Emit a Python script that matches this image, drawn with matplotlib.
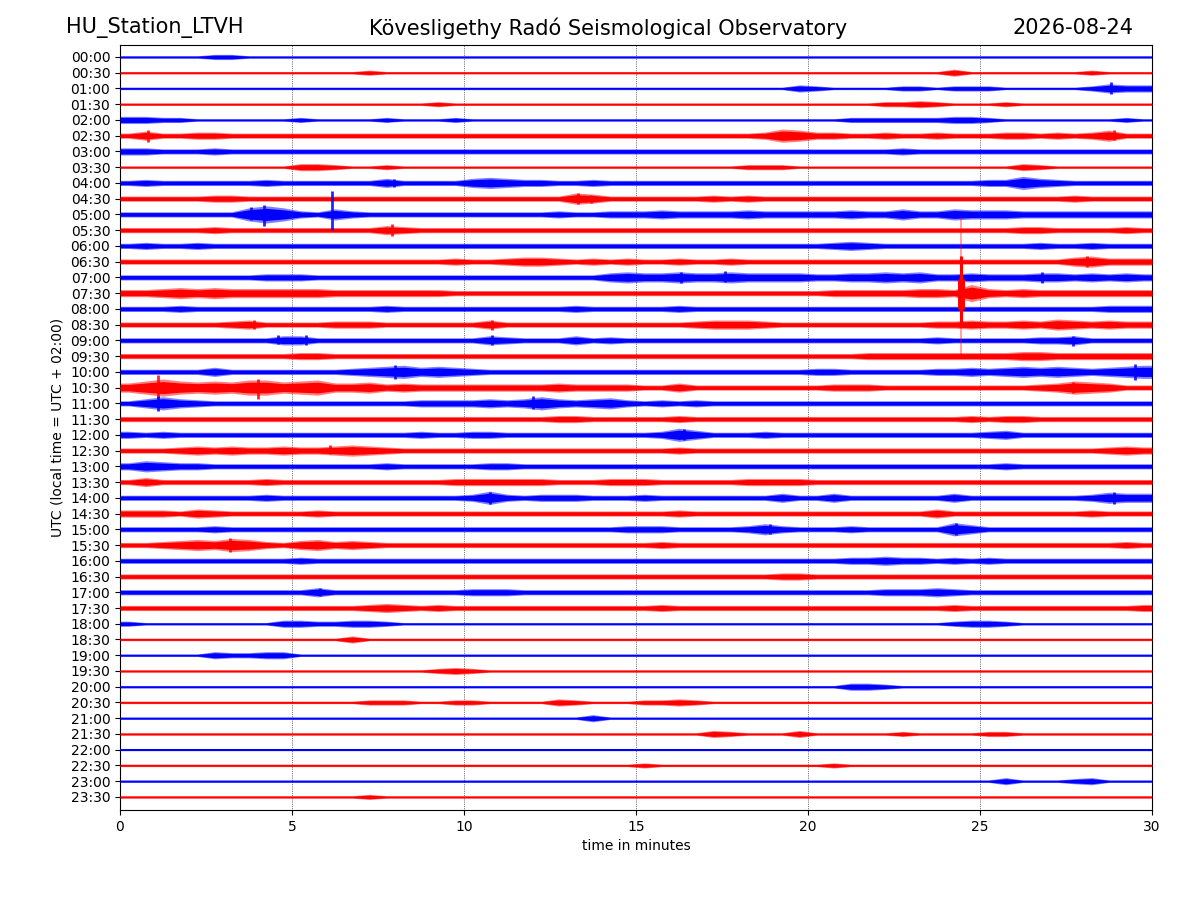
import numpy as np
import matplotlib
matplotlib.use("Agg")
import matplotlib.pyplot as plt

station = "HU_Station_LTVH"
observatory = "Kövesligethy Radó Seismological Observatory"
day = "2026-08-24"

row_labels = [f"{h:02d}:{m:02d}" for h in range(24) for m in (0, 30)]
row_colors = ["#0000ff", "#ff0000"] * 24

# trace envelope, one digit per half minute (base36: a=10 ...), groups of 5 minutes
envelope = [
    "1111122111 1111111111 1111111111 1111111111 1111111111 1111111111",  # 00:00
    "1111111111 1111211111 1111111111 1111111111 1111111131 1111112111",
    "1111111111 1111111111 1111111111 1111111113 2111122122 2111112433",
    "1111111111 1111111121 1111111111 1111111111 1111223211 1211111111",
    "3322111111 2111121112 1111111111 1111111111 1122222233 2111111121",
    "2422332222 2222222222 2222222222 2222222365 3322322322 2332323522",
    "3322232222 2222222222 2222222222 2222222222 2222232222 2222222222",
    "1111111111 3321121111 1111111111 1111112221 1111111111 1132111111",
    "2322222232 2222242222 4543322322 2222222222 2222222222 3364322222",  # 04:00
    "2222233222 2222222222 2222225422 2222323222 2222222222 2222232222",
    "2222222686 3253222222 2222232233 3433334333 3343353354 4433333333",
    "2222232222 2222243222 2222222222 2222222222 2222222222 2233222232",
    "2322322222 2222222222 2222222222 2222222222 2343222222 2223223222",
    "2222222222 2222222223 2234432323 2232232222 2222222222 2222245333",
    "2222222233 3222222222 2222222245 4454454444 3344545334 3334434343",
    "3345454444 4433333332 2222222222 2222222222 2333334438 4343333333",
    "2223222222 2222232222 2222223222 2232222222 2222222222 2222222333",  # 08:00
    "2222223422 2233322222 2422222222 2223444322 2222222334 3343543433",
    "2222222224 4222222222 2432224232 2222222222 2222222322 2223342222",
    "2222222222 3322222222 2222222222 2222222222 2223333333 3344333333",
    "2222242222 2223456454 3222222222 2222222222 3322222334 3454543456",
    "4686565775 6744534333 3333343333 2242222222 2333222222 2223465422",
    "2464322222 2222222333 3434643453 2323222222 2222222222 2222222222",
    "2222222222 2222222222 2222233222 2232222222 2222222223 2332222222",
    "3232222222 2222222322 3322222222 2364222322 2222222222 3422222222",  # 12:00
    "2223434334 3345432222 2222222222 2232222222 2222222222 2222222343",
    "3543322222 2222232222 2332222222 2222222222 2222222222 2322222222",
    "2422222232 2222222223 3333322233 3222223333 2222222222 2222222222",
    "2222222232 2222222222 3632333222 3222222242 2422222242 2222223544",
    "3332432222 2322222222 2222222222 2232222222 2222222422 2222223222",
    "2222232222 2222222222 2222222223 3322223532 2232222264 2222222222",
    "2234546532 4534322222 2222222222 2322222222 2222222222 2222222232",
    "2222222222 3222222222 2222222222 2222222222 2233433232 3222222222",  # 16:00
    "2222222222 2222222222 2222222222 2222222233 2222222222 2222222222",
    "2222222222 2422222222 3332222222 2222222222 2222333432 2222222222",
    "2222222222 2222343232 2222222222 2322222222 2222222232 2222222223",
    "2111111113 3223321111 1111111111 1111111111 1111111123 3211111111",
    "1111111111 1113111111 1111111111 1111111111 1111111111 1111111111",
    "1111132233 1111111111 1111111111 1111111111 1111111111 1111111111",
    "1111111111 1111111123 2111111111 1111111111 1111111111 1111111111",
    "1111111111 1111111111 1111111111 1111111111 1133211111 1111111111",  # 20:00
    "1111111111 1111222112 2111132111 2232111111 1111111111 1111111111",
    "1111111111 1111111111 1111111311 1111111111 1111111111 1111111111",
    "1111111111 1111111111 1111111111 1111321113 1111121111 2211111111",
    "1111111111 1111111111 1111111111 1111111111 1111111111 1111111111",
    "1111111111 1111111111 1111111111 2111111111 1211111111 1111111111",
    "1111111111 1111111111 1111111111 1111111111 1111111111 1311123111",
    "1111111111 1111211111 1111111111 1111111111 1111111111 1111111111",
]

# short spikes: row, minute, pixels up, pixels down
spike_row = [2, 5, 5, 8, 9, 9, 10, 10, 10, 11, 13, 14, 14, 14, 17, 17, 18, 18,
             18, 18, 20, 20, 21, 21, 21, 22, 22, 24, 25, 28, 28, 30, 30, 31, 34]
spike_min = [28.8, 0.8, 28.9, 7.97, 13.3, 13.7, 3.8, 4.2, 6.15, 7.9, 28.1, 16.3,
             17.6, 26.8, 3.9, 10.8, 4.6, 5.4, 10.8, 27.7, 8.0, 29.5, 1.1, 4.0,
             27.7, 1.1, 12.0, 16.4, 6.1, 10.75, 28.9, 18.9, 24.3, 3.2, 5.8]
spike_up = [6, 6, 6, 4, 6, 4, 7, 9, 23, 6, 6, 5, 6, 5, 5, 5, 5, 5, 5, 4, 7, 8,
            13, 9, 6, 7, 7, 6, 6, 6, 6, 5, 6, 7, 4]
spike_down = [6, 6, 4, 4, 5, 4, 6, 12, 16, 6, 5, 6, 5, 6, 4, 5, 4, 5, 5, 6, 7,
              8, 10, 11, 5, 8, 6, 5, 3, 6, 6, 5, 6, 7, 4]

# the big quake at 07:30 that runs over neighbouring lines
quake_row = 15
quake_min = 24.45
quake_up = [75, 37, 14]
quake_down = [63, 30, 16]
quake_alpha = [0.35, 1.0, 1.0]
quake_lw = [1.5, 2.2, 5.0]

PX_ROW = 15.74  # pixel distance between two lines

fig = plt.figure(figsize=(12, 9), dpi=100)
ax = fig.add_axes([0.1, 0.1, 0.86, 0.85])

t = np.arange(60) * 0.5 + 0.25
tt = np.concatenate([[0], t, [30]])
for i, (s, c) in enumerate(zip(envelope, row_colors)):
    lev = np.array([int(ch, 36) for ch in s.replace(" ", "")], dtype=float)
    half_px = np.where(lev <= 1, 1.2 * lev, 0.6 + lev)
    amp = half_px / PX_ROW
    aa = np.concatenate([[amp[0]], amp, [amp[-1]]])
    ax.fill_between(tt, i - aa, i + aa, color=c, alpha=0.5, lw=0, zorder=2)
    ax.fill_between(tt, i - 0.7 * aa, i + 0.7 * aa, color=c, lw=0, zorder=3)
    ax.hlines(i, 0, 30, color=c, lw=0.9, zorder=3)

for r, m, u, d in zip(spike_row, spike_min, spike_up, spike_down):
    ax.vlines(m, r - u / PX_ROW, r + d / PX_ROW, color=row_colors[r],
              lw=2.0, alpha=0.85, zorder=4)

for u, d, a, w in zip(quake_up, quake_down, quake_alpha, quake_lw):
    ax.vlines(quake_min, quake_row - u / PX_ROW, quake_row + d / PX_ROW,
              color=row_colors[quake_row], alpha=a, lw=w, zorder=5)

for x in [5, 10, 15, 20, 25]:
    ax.axvline(x, color="k", lw=0.5, ls=":", zorder=1)

ax.set_xlim(0, 30)
ax.set_ylim(47.83, -0.76)
ax.set_xticks([0, 5, 10, 15, 20, 25, 30])
ax.set_yticks(range(len(row_labels)))
ax.set_yticklabels(row_labels)
ax.set_xlabel("time in minutes")
ax.set_ylabel("UTC (local time = UTC + 02:00)")

fig.text(0.055, 0.969, station, fontsize=15, ha="left", va="center")
fig.text(0.507, 0.969, observatory, fontsize=15, ha="center", va="center")
fig.text(0.945, 0.969, day, fontsize=15, ha="right", va="center")

fig.savefig("out.png")
